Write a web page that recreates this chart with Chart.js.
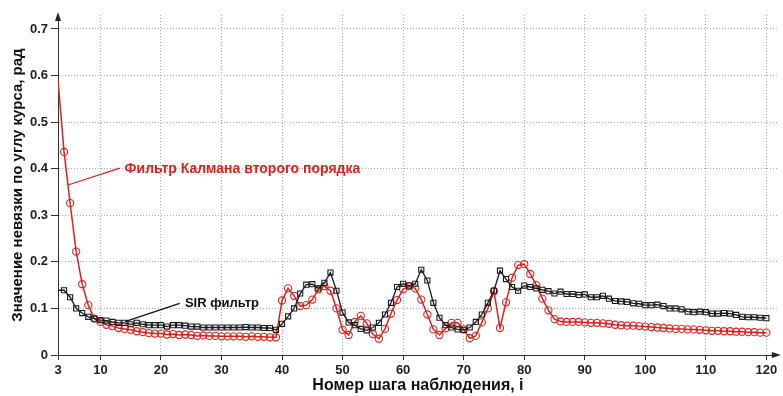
<!DOCTYPE html>
<html>
<head>
<meta charset="utf-8">
<script src="https://cdn.jsdelivr.net/npm/chart.js@4.4.1/dist/chart.umd.min.js"></script>
<style>
  html, body { margin: 0; padding: 0; background: #fff; }
  #wrap { width: 783px; height: 396px; position: relative; }
</style>
</head>
<body>
<div id="wrap"><canvas id="c" width="783" height="396"></canvas></div>
<script>
// ---- DATA ----
const steps = [3,4,5,6,7,8,9,10,11,12,13,14,15,16,17,18,19,20,21,22,23,24,25,26,27,28,29,30,31,32,33,34,35,36,37,38,39,40,
  41,42,43,44,45,46,47,48,49,50,51,52,53,54,55,56,57,58,59,60,61,62,63,64,65,66,67,68,69,70,71,72,73,74,75,76,77,78,79,80,
  81,82,83,84,85,86,87,88,89,90,91,92,93,94,95,96,97,98,99,100,101,102,103,104,105,106,107,108,109,110,111,112,113,114,115,116,117,118,119,120];

const kalman = [0.590,0.436,0.326,0.222,0.152,0.107,0.078,0.071,0.065,0.062,0.058,0.056,0.054,0.051,0.049,0.047,0.046,0.046,0.044,0.045,
  0.043,0.044,0.043,0.041,0.042,0.041,0.041,0.040,0.040,0.040,0.040,0.039,0.040,0.039,0.039,0.038,0.038,
  0.117,0.143,0.127,0.105,0.107,0.119,0.141,0.148,0.138,0.100,0.054,0.043,0.071,0.084,0.068,0.045,0.035,0.056,0.089,0.118,
  0.141,0.148,0.143,0.119,0.087,0.055,0.043,0.057,0.069,0.069,0.055,0.036,0.041,0.070,0.100,0.137,0.058,0.113,0.166,0.193,
  0.195,0.174,0.150,0.121,0.096,0.077,0.072,0.071,0.071,0.071,0.070,0.069,0.069,0.068,0.067,0.065,0.064,0.063,0.063,0.062,
  0.061,0.060,0.059,0.058,0.057,0.056,0.056,0.055,0.055,0.054,0.053,0.052,0.052,0.051,0.051,0.050,0.050,0.049,0.049,0.048,0.048];

const sir = [0.139,0.139,0.124,0.100,0.090,0.082,0.078,0.075,0.074,0.071,0.069,0.069,0.066,0.069,0.066,0.064,0.064,0.064,0.061,0.064,
  0.064,0.063,0.061,0.061,0.059,0.059,0.059,0.059,0.059,0.059,0.059,0.060,0.059,0.059,0.058,0.058,0.054,
  0.067,0.083,0.100,0.132,0.151,0.152,0.143,0.155,0.177,0.138,0.091,0.070,0.064,0.056,0.053,0.059,0.069,0.087,0.112,0.146,
  0.153,0.149,0.153,0.183,0.160,0.112,0.080,0.064,0.059,0.055,0.054,0.059,0.071,0.087,0.112,0.138,0.181,0.163,0.146,0.138,
  0.149,0.146,0.143,0.140,0.137,0.132,0.136,0.131,0.131,0.129,0.130,0.124,0.124,0.127,0.121,0.116,0.115,0.114,0.111,0.110,
  0.107,0.107,0.108,0.105,0.100,0.100,0.098,0.093,0.092,0.093,0.092,0.089,0.089,0.090,0.089,0.086,0.082,0.081,0.081,0.080,0.079];

const xTicks = [3,10,20,30,40,50,60,70,80,90,100,110,120];
const yTicks = [0,0.1,0.2,0.3,0.4,0.5,0.6,0.7];

const seriesNames = ['Фильтр Калмана второго порядка', 'SIR фильтр'];
const xTitle = 'Номер шага наблюдения, i';
const yTitle = 'Значение невязки по углу курса, рад';

// callouts: text with a leader line, anchored in data coordinates
const callouts = [
  { text: seriesNames[0], color: '#e0201c', size: 14, from: [4.65, 0.365], to: [13.2, 0.401], at: [14.0, 0.399] },
  { text: seriesNames[1], color: '#111111', size: 13, from: [14.06, 0.0715], to: [23.1, 0.111], at: [23.96, 0.1116] }
];

// ---- CHART ----
const FONT = "'Liberation Sans', Arial, sans-serif";

const calloutPlugin = {
  id: 'callouts',
  afterDatasetsDraw(chart) {
    const {ctx, scales: {x, y}} = chart;
    ctx.save();
    callouts.forEach(c => {
      ctx.strokeStyle = c.color;
      ctx.lineWidth = 1.3;
      ctx.beginPath();
      ctx.moveTo(x.getPixelForValue(c.from[0]), y.getPixelForValue(c.from[1]));
      ctx.lineTo(x.getPixelForValue(c.to[0]), y.getPixelForValue(c.to[1]));
      ctx.stroke();
      ctx.fillStyle = c.color;
      ctx.font = "bold " + c.size + "px " + FONT;
      ctx.textAlign = 'left';
      ctx.textBaseline = 'middle';
      ctx.fillText(c.text, x.getPixelForValue(c.at[0]), y.getPixelForValue(c.at[1]));
    });
    ctx.restore();
  }
};

const arrowPlugin = {
  id: 'arrows',
  afterDraw(chart) {
    const {ctx, chartArea: a} = chart;
    ctx.save();
    ctx.fillStyle = '#222';
    ctx.beginPath();
    ctx.moveTo(a.right + 3, a.bottom);
    ctx.lineTo(a.right - 6, a.bottom - 3);
    ctx.lineTo(a.right - 6, a.bottom + 3);
    ctx.closePath();
    ctx.fill();
    ctx.beginPath();
    ctx.moveTo(a.left, a.top - 3);
    ctx.lineTo(a.left - 3, a.top + 6);
    ctx.lineTo(a.left + 3, a.top + 6);
    ctx.closePath();
    ctx.fill();
    ctx.restore();
  }
};

const bgPlugin = {
  id: 'bg',
  beforeDraw(chart) {
    const {ctx} = chart;
    ctx.save();
    ctx.fillStyle = '#fff';
    ctx.fillRect(0, 0, chart.width, chart.height);
    ctx.restore();
  }
};

new Chart(document.getElementById('c'), {
  type: 'line',
  data: {
    datasets: [
      {
        label: seriesNames[1],
        data: steps.map((s, i) => ({x: s, y: sir[i]})),
        borderColor: '#1a1a1a',
        borderWidth: 1.3,
        pointStyle: 'rect',
        pointRadius: ctx => ctx.dataIndex === 0 ? 0 : 3.6,
        pointBorderColor: '#1a1a1a',
        pointBackgroundColor: 'rgba(255,255,255,0)',
        pointBorderWidth: 1.1,
        tension: 0,
        order: 1
      },
      {
        label: seriesNames[0],
        data: steps.map((s, i) => ({x: s, y: kalman[i]})),
        borderColor: '#e0201c',
        borderWidth: 1.5,
        pointStyle: 'circle',
        pointRadius: ctx => ctx.dataIndex === 0 ? 0 : 3.6,
        pointBorderColor: '#e0201c',
        pointBackgroundColor: 'rgba(255,255,255,0)',
        pointBorderWidth: 1.1,
        tension: 0,
        order: 2
      }
    ]
  },
  options: {
    responsive: false,
    animation: false,
    events: [],
    layout: { padding: { top: 15, right: 4, left: 0, bottom: 0 } },
    plugins: { legend: { display: false }, tooltip: { enabled: false } },
    scales: {
      x: {
        type: 'linear',
        min: 3,
        max: 121.9,
        afterBuildTicks: s => { s.ticks = xTicks.map(v => ({value: v})); },
        afterFit: s => { s.height = 41; },
        grid: { color: '#a8a8a8', lineWidth: 1, tickLength: 5, tickColor: '#333', drawOnChartArea: true },
        border: { color: '#333', width: 1, dash: [1, 2] },
        ticks: {
          padding: 3,
          maxRotation: 0,
          autoSkip: false,
          color: '#222',
          font: { family: FONT, size: 13, weight: 'bold' },
          callback: v => String(v)
        },
        title: {
          display: true,
          text: xTitle,
          color: '#111',
          font: { family: FONT, size: 16, weight: 'bold' },
          padding: { top: 0, bottom: 1 }
        }
      },
      y: {
        type: 'linear',
        min: 0,
        max: 0.73,
        afterBuildTicks: s => { s.ticks = yTicks.map(v => ({value: v})); },
        afterFit: s => { s.width = 58; },
        grid: { color: '#a8a8a8', lineWidth: 1, tickLength: 7, tickColor: '#333', drawOnChartArea: true },
        border: { color: '#333', width: 1, dash: [1, 2] },
        ticks: {
          padding: 3,
          color: '#222',
          font: { family: FONT, size: 13, weight: 'bold' },
          callback: v => (v === 0 ? '0' : (Math.round(v * 10) / 10).toFixed(1))
        },
        title: {
          display: true,
          text: yTitle,
          color: '#111',
          font: { family: FONT, size: 15, weight: 'bold' },
          padding: { top: 9, bottom: 0 }
        }
      }
    }
  },
  plugins: [bgPlugin, calloutPlugin, arrowPlugin]
});
</script>
</body>
</html>
